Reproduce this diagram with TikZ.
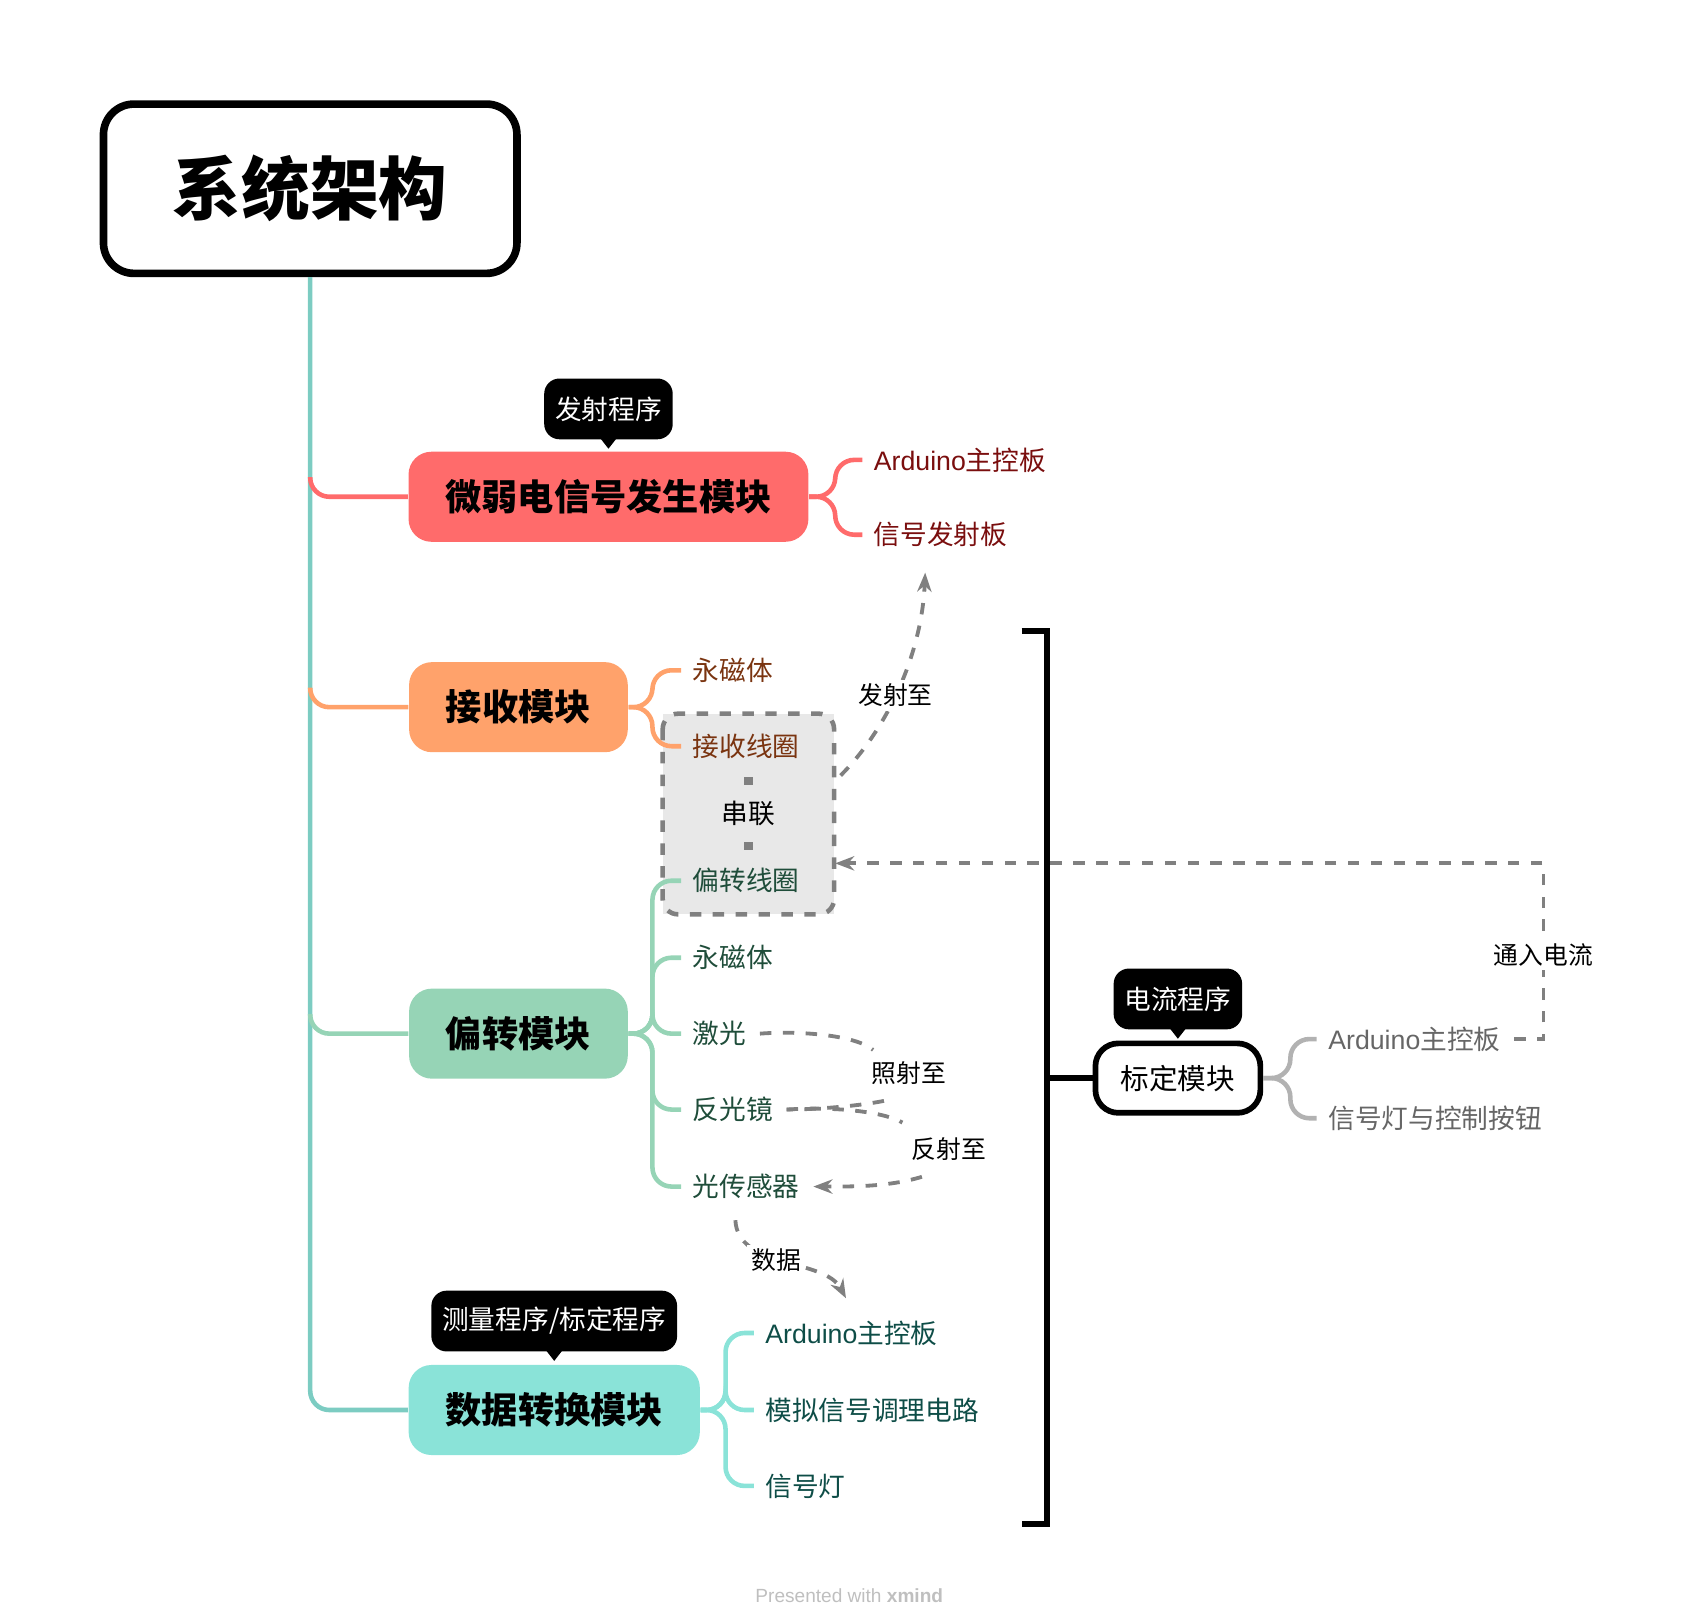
\documentclass[tikz,border=0pt]{standalone}
\usepackage{fontspec}
\setmainfont{Noto Sans CJK SC}
\newfontfamily\lat{Liberation Sans}
\usetikzlibrary{positioning,arrows.meta}
\definecolor{cRed}{HTML}{FF6B6B}
\definecolor{cOra}{HTML}{FFA26B}
\definecolor{cGrn}{HTML}{96D4B6}
\definecolor{cTea}{HTML}{8AE3D8}
\definecolor{tRed}{HTML}{7A0E0E}
\definecolor{tOra}{HTML}{7A3410}
\definecolor{tGrn}{HTML}{1F4D3A}
\definecolor{tTea}{HTML}{0E4D47}
\tikzset{
  main/.style={rounded corners=6pt, minimum height=0.83cm, inner xsep=0.34cm, font=\fontsize{9.5}{10}\selectfont\bfseries},
  item/.style={anchor=west, inner sep=0pt, font=\fontsize{7}{8}\selectfont},
  callout/.style={fill=black, text=white, rounded corners=4pt, minimum height=0.56cm, inner xsep=0.1cm, font=\fontsize{7}{8}\selectfont},
  branch/.style={line width=1.2pt, rounded corners=5pt},
  rel/.style={draw=gray, dashed, line width=1pt, -{Stealth[length=5pt]}},
  rlabel/.style={font=\fontsize{6.5}{8}\selectfont, fill=white, inner sep=1pt}
}
\begin{document}
\begin{tikzpicture}[x=0.01cm, y=-0.01cm]
\useasboundingbox (0,0) rectangle (1560,1494);
        % Root
        \node[draw, line width=2pt, rounded corners=8pt, minimum width=3.81cm, minimum height=1.56cm, font=\fontsize{18}{20}\selectfont\bfseries] (root) at (286,174) {系统架构};

        % Main topics
        \node[main, fill=cRed, minimum width=3.66cm] (sig) at (561,458) {微弱电信号发生模块};
        \node[main, fill=cOra, minimum width=2.0cm] (rec) at (478,652) {接收模块};
        \node[main, fill=cGrn, minimum width=2.0cm] (dfl) at (478,953) {偏转模块};
        \node[main, fill=cTea, minimum width=2.66cm] (dat) at (511,1300) {数据转换模块};
        \node[draw, line width=1.5pt, rounded corners=6pt, minimum width=1.52cm, minimum height=0.64cm, font=\fontsize{7.5}{8}\selectfont] (cal) at (1086,994) {标定模块};

        % Callouts
        \node[callout] (c1) at (561,377) {发射程序};
        \node[callout] (c2) at (511,1218) {测量程序/标定程序};
        \node[callout] (c3) at (1086,921) {电流程序};
        \foreach \c in {c1,c2,c3}
          \fill (\c.south) ++(-7,-1) -- ++(14,0) -- ++(-7,9) -- cycle;

        % Serial group
        \fill[gray!18] (611,658) rectangle (769,843);
        \draw[gray, dashed, line width=1.2pt, rounded corners=4pt] (611,658) rectangle (769,843);
        \node[item, anchor=center] (ser) at (690,750) {串联};
        \draw[gray, line width=2pt] (686,720) -- (694,720) (686,780) -- (694,780);

        % Subtopics
        \node[item, text=tRed] (s1) at (805,424) {{\lat Arduino}主控板};
        \node[item, text=tRed] (s2) at (805,493) {信号发射板};
        \node[item, text=tOra] (r1) at (638,618) {永磁体};
        \node[item, text=tOra] (r2) at (638,688) {接收线圈};
        \node[item, text=tGrn] (d1) at (638,812) {偏转线圈};
        \node[item, text=tGrn] (d2) at (638,883) {永磁体};
        \node[item, text=tGrn] (d3) at (638,953) {激光};
        \node[item, text=tGrn] (d4) at (638,1023) {反光镜};
        \node[item, text=tGrn] (d5) at (638,1094) {光传感器};
        \node[item, text=tTea] (t1) at (705,1229) {{\lat Arduino}主控板};
        \node[item, text=tTea] (t2) at (705,1300) {模拟信号调理电路};
        \node[item, text=tTea] (t3) at (705,1370) {信号灯};
        \node[item, text=gray!80!black] (k1) at (1224,958) {{\lat Arduino}主控板};
        \node[item, text=gray!80!black] (k2) at (1224,1031) {信号灯与控制按钮};

        % Trunk
        \draw[branch, cTea!90!black] (root.south) |- (dat.west);
        \draw[branch, cRed] (286,440) |- (sig.west);
        \draw[branch, cOra] (286,634) |- (rec.west);
        \draw[branch, cGrn] (286,935) |- (dfl.west);

        % Brackets
        \foreach \n in {s1,s2} \draw[branch, cRed] (sig.east) -- ++(24,0) |- ([xshift=-0.1cm]\n.west);
        \foreach \n in {r1,r2} \draw[branch, cOra] (rec.east) -- ++(22,0) |- ([xshift=-0.1cm]\n.west);
        \foreach \n in {d1,d2,d3,d4,d5} \draw[branch, cGrn] (dfl.east) -- ++(22,0) |- ([xshift=-0.1cm]\n.west);
        \foreach \n in {t1,t2,t3} \draw[branch, cTea] (dat.east) -- ++(23,0) |- ([xshift=-0.1cm]\n.west);
        \foreach \n in {k1,k2} \draw[branch, gray!60] (cal.east) -- ++(25,0) |- ([xshift=-0.1cm]\n.west);

        % Big bracket
        \draw[line width=1.5pt] (942,582) -- (965,582) -- (965,1405) -- (942,1405);
        \draw[line width=1.5pt] (965,994) -- (cal.west);

        % Relationships
        \coordinate (tx) at (853,528);
        \coordinate (gin) at (770,796);
        \coordinate (dout) at (780,1197);
        \draw[rel] (775,715) .. controls (820,670) and (850,600) .. (tx) node[rlabel, pos=0.45] {发射至};
        \draw[rel] ([xshift=0.12cm]k1.east) -- (1423,958) -- (1423,796) node[rlabel, pos=0.48] {通入电流} -- (gin);
        \draw[rel, -] ([xshift=0.12cm]d3.east) .. controls (740,950) and (790,955) .. (805,968);
        \node[rlabel] (la) at (838,989) {照射至};
        \draw[rel, -] (815,1015) .. controls (790,1020) and (750,1023) .. ([xshift=0.12cm]d4.east);
        \draw[rel, -] ([xshift=0.12cm]d4.east) .. controls (770,1020) and (815,1025) .. (832,1035);
        \node[rlabel] (lb) at (875,1059) {反射至};
        \draw[rel] (850,1085) .. controls (820,1094) and (790,1094) .. ([xshift=0.12cm]d5.east);
        \draw[rel] (678,1125) .. controls (680,1170) and (760,1160) .. (dout) node[rlabel, pos=0.45] {数据};

        % Footer
        \node[text=gray!50, font=\lat\fontsize{5}{6}\selectfont] (ft) at (783,1471) {Presented with \textbf{xmind}};
\end{tikzpicture}
\end{document}
